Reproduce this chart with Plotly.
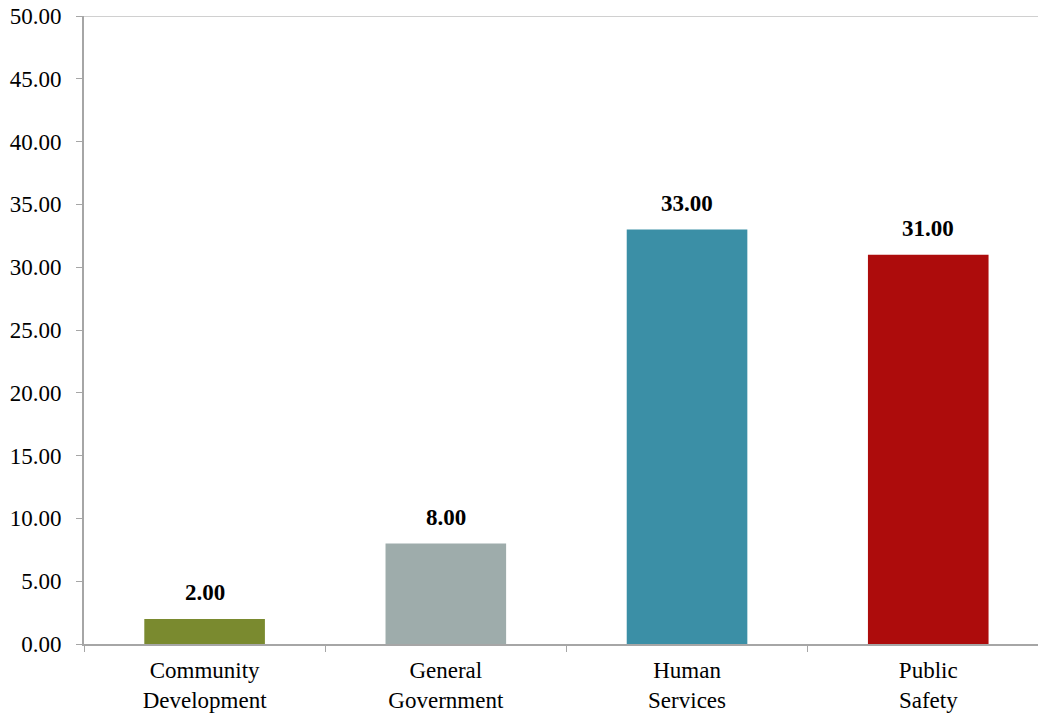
import plotly.graph_objects as go

categories = ["Community<br>Development", "General<br>Government", "Human<br>Services", "Public<br>Safety"]
values = [2.0, 8.0, 33.0, 31.0]
colors = ["#7a8a2f", "#9eacab", "#3b8fa6", "#ad0c0c"]
y_ticks = [0, 5, 10, 15, 20, 25, 30, 35, 40, 45, 50]

FONT = "Liberation Serif, Times New Roman, serif"

fig = go.Figure()
fig.add_trace(go.Bar(
    x=categories, y=values, marker=dict(color=colors, line=dict(width=0)),
    width=0.5, hoverinfo="skip",
))

for c, v in zip(categories, values):
    fig.add_annotation(x=c, y=v, text=f"<b>{v:.2f}</b>", showarrow=False,
                       yanchor="bottom", yshift=12,
                       font=dict(family=FONT, size=23, color="black"))

fig.update_layout(
    width=1038, height=715,
    margin=dict(l=84, r=0, t=16, b=71),
    plot_bgcolor="white", paper_bgcolor="white",
    showlegend=False,
    font=dict(family=FONT, size=23, color="black"),
)
fig.update_xaxes(
    type="category", range=[-0.5, 3.455],
    showline=True, linecolor="#a6a6a6", linewidth=2,
    ticks="outside", tickson="boundaries", ticklen=6, tickcolor="#a6a6a6", tickwidth=1,
    showgrid=False, tickfont=dict(family=FONT, size=23, color="black"),
    ticklabelstandoff=4,
)
fig.update_yaxes(
    range=[0, 50], tickvals=y_ticks, tickformat=".2f",
    showline=True, linecolor="#a6a6a6", linewidth=2,
    ticks="outside", ticklen=6, tickcolor="#a6a6a6",
    showgrid=False, zeroline=False,
    tickfont=dict(family=FONT, size=23, color="black"),
    ticklabelstandoff=10,
)
# top border line at 50
fig.add_shape(type="line", xref="paper", yref="y", x0=0, x1=1, y0=50, y1=50,
              line=dict(color="#d0d0d0", width=2))

fig.write_html("out.html")
